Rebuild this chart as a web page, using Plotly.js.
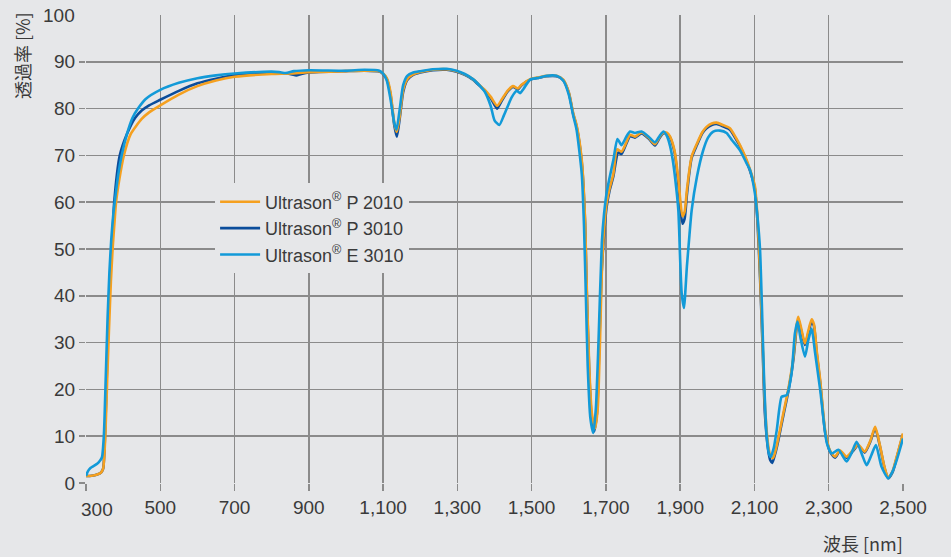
<!DOCTYPE html>
<html>
<head>
<meta charset="utf-8">
<script src="https://cdn.plot.ly/plotly-3.0.1.min.js"></script>
<style>
  html, body { margin: 0; padding: 0; background: #e6e7e9; }
  #chart { width: 951px; height: 557px; }
</style>
</head>
<body>
<div id="chart"></div>
<script>
// Series names
const seriesNames = ["Ultrason<sup>®</sup> P 2010", "Ultrason<sup>®</sup> P 3010", "Ultrason<sup>®</sup> E 3010"];

// Ultrason P 2010 (orange)
const p2010_wl = [300,310,320,330,340,346,352,357,362,367,372,377,381,390,402,420,450,470,500,550,600,650,700,800,850,900,1000,1050,1090,1100,1110,1120,1130,1137,1145,1154,1165,1181,1200,1234,1271,1298,1320,1342,1365,1374,1390,1407,1420,1435,1450,1463,1473,1496,1520,1540,1567,1585,1600,1612,1621,1635,1644,1648,1655,1662,1671,1678,1684,1689,1695,1702,1710,1720,1730,1742,1755,1765,1778,1796,1815,1832,1845,1855,1865,1873,1880,1886,1895,1906,1912,1918,1925,1931,1945,1960,1971,1985,1998,2015,2034,2050,2061,2075,2088,2101,2108,2115,2122,2128,2137,2143,2150,2157,2164,2178,2191,2205,2214,2218,2226,2236,2245,2254,2260,2268,2277,2290,2303,2317,2330,2348,2365,2379,2397,2412,2425,2438,2450,2460,2472,2483,2500];
const p2010_t = [1.5,1.5,1.6,1.8,2.2,3.0,10,22,33,43,50.5,56,60,65,70,74.5,77.8,79.2,80.7,83,84.8,86,86.8,87.4,87.5,87.8,88,88.1,88,87.5,86.5,83.5,77,75,78.5,84,86.3,87.3,87.8,88.3,88.4,88.0,87.3,86.3,84.6,84,82.5,80.6,82,83.8,84.8,84.3,85.1,86.3,86.7,87,87,86.2,83.5,79,76.5,69,56,43,25,15,11.7,16,30,45,54,59.8,63,66,71.3,70.8,72.8,74.4,74,74.9,73.8,72.4,74,74.9,74.8,74,72.5,70.5,65,57,58,62.5,67,69.8,72.5,75,76.1,76.8,77,76.5,75.8,73.8,72.2,69.8,67,63.5,57,45,30,17,8,5.8,5.3,7,9.5,15,20,27,34,35.5,33,29.8,32.5,35,34,28,22,11.5,7,5.6,7,5.6,7,8.2,6.7,9,12,8,3.5,1.1,2.5,5.6,10.6];

// Ultrason P 3010 (dark blue)
const p3010_wl = [300,310,320,330,340,346,352,357,362,367,372,376,391,410,432,450,470,500,550,600,650,700,800,840,855,866,880,900,1000,1050,1090,1100,1110,1120,1130,1137,1145,1154,1165,1181,1200,1234,1271,1298,1320,1342,1365,1374,1390,1407,1420,1435,1450,1463,1473,1496,1520,1540,1567,1585,1600,1612,1621,1635,1644,1648,1655,1661,1668,1676,1682,1688,1695,1702,1710,1720,1733,1742,1755,1765,1778,1796,1815,1832,1845,1855,1865,1873,1880,1886,1895,1906,1912,1918,1925,1931,1945,1960,1971,1985,1998,2015,2034,2050,2061,2075,2088,2101,2108,2115,2122,2128,2137,2143,2148,2155,2164,2178,2191,2205,2214,2218,2226,2236,2245,2254,2260,2268,2277,2290,2303,2317,2330,2348,2365,2379,2397,2412,2425,2438,2450,2460,2472,2483,2500];
const p3010_t = [1.5,1.5,1.6,1.8,2.2,3.0,12,26,38,47,54,60,70,74.5,78,79.6,80.7,81.9,83.8,85.4,86.4,87.1,87.5,87.5,87.3,87.1,87.4,87.7,88,88.1,87.9,87.4,86.3,83,76.5,74,78,83.5,86.1,87.2,87.7,88.2,88.3,87.9,87.2,86.2,84.5,83.8,82.2,80,81.7,83.6,84.6,84.1,85,86.2,86.6,86.9,86.9,86.1,83.4,78.8,76.2,68.5,55.5,42,24,14.5,11,15,29,44,53,59,62.5,65.5,70.6,70.3,72.5,74.1,73.8,74.7,73.6,72.1,73.8,74.7,74.6,73.8,72.2,70.2,64,55.4,56.5,61.5,66.5,69.5,72.2,74.8,75.8,76.5,76.7,76.2,75.5,73.5,72,69.5,66.7,63,56,44,29,15,7,4.8,4.3,6,9,14.5,19.5,26.5,33.5,35,32.5,29.5,32,34.5,33.6,27.5,21.5,11,6.8,5.4,6.8,5.4,6.8,8,6.5,8.8,11.7,7.8,3.3,1,2.3,5.4,10.4];

// Ultrason E 3010 (light blue)
const e3010_wl = [300,305,312,320,330,338,343,348,353,358,363,368,373,378,387,396,410,425,440,460,500,550,600,650,700,800,820,838,860,900,1000,1050,1090,1100,1110,1120,1130,1136,1145,1154,1165,1181,1200,1234,1271,1298,1320,1342,1365,1374,1390,1400,1413,1425,1433,1447,1460,1469,1478,1496,1520,1540,1567,1585,1600,1612,1621,1635,1641,1646,1651,1658,1666,1673,1680,1689,1695,1702,1710,1720,1731,1742,1755,1765,1778,1796,1815,1832,1845,1855,1865,1873,1880,1886,1895,1900,1904,1910,1918,1925,1931,1945,1962,1975,1989,2007,2025,2039,2061,2079,2088,2101,2108,2115,2120,2126,2133,2140,2144,2152,2160,2173,2180,2187,2200,2209,2216,2224,2236,2245,2254,2263,2277,2295,2308,2326,2348,2362,2375,2390,2402,2415,2427,2442,2460,2472,2483,2500];
const e3010_t = [1.5,2.5,3.2,3.6,4.1,4.8,5.5,10,22,35,45,52,57,60.5,66,70,74.5,78,80,82,84,85.5,86.5,87.1,87.5,87.9,87.8,87.6,88,88.2,88.1,88.3,88.1,87.5,86,82,77,75.5,80,85,87,87.7,88,88.4,88.5,88.1,87.4,86.3,84.5,83.6,80.5,77.5,76.5,78.5,80,82.5,83.8,83.3,84.2,86.2,86.6,87,87,86,83,78.5,75.5,66,55,40,25,14,10.7,16,30,51.3,57.5,62,65.3,69,73.5,72.2,74,75.1,74.8,75.1,74,72.8,74.2,75.1,74,71.9,69,65.4,58.3,47.6,40.6,37.4,46.2,53,58.3,65.4,71.1,73.8,75.1,75.3,74.8,73.3,71.1,68.3,66.9,62,57,49.8,38,22,10,6,5.6,7.5,11.3,18.4,18.6,18.8,23.5,32,34.5,31,27,30.5,33,28,19.9,8.5,6.3,7.1,4.6,6.5,8.8,6,3.8,6,8.1,3.5,1,2.5,4.9,9.5];

// Axis ticks
const xTicks = [300,500,700,900,1100,1300,1500,1700,1900,2100,2300,2500];
const xTickText = ["","500","700","900","1,100","1,300","1,500","1,700","1,900","2,100","2,300","2,500"];
const yTicks = [0,10,20,30,40,50,60,70,80,90];

const colors = {p2010: "#f5a01f", p3010: "#0b4d9b", e3010: "#129ad8"};
const bg = "#e6e7e9";
const gridC = "#8b8b8b";
const txtC = "#3a3a3a";
const font = "Liberation Sans, Arial, sans-serif";

function tr(x, y, name, color, rank) {
  return {
    x: x, y: y, name: name, type: "scatter", mode: "lines",
    line: {color: color, width: 2.6, shape: "spline", smoothing: 0.6},
    legendrank: rank, legendgroup: "g" + rank,
    hoverinfo: "skip"
  };
}

const data = [
  tr(p3010_wl, p3010_t, seriesNames[1], colors.p3010, 2),
  tr(p2010_wl, p2010_t, seriesNames[0], colors.p2010, 1),
  tr(e3010_wl, e3010_t, seriesNames[2], colors.e3010, 3)
];

const layout = {
  width: 951, height: 557,
  paper_bgcolor: bg, plot_bgcolor: bg,
  margin: {l: 86, r: 48, t: 15, b: 74},
  font: {family: font, color: txtC, size: 19},
  showlegend: true,
  legend: {
    x: 0.158, y: 0.64, xanchor: "left", yanchor: "top",
    bgcolor: bg, borderwidth: 0, itemwidth: 40,
    font: {family: font, size: 18, color: txtC},
    tracegroupgap: 4, traceorder: "normal"
  },
  xaxis: {
    range: [300, 2500], tickvals: xTicks, ticktext: xTickText,
    showgrid: true, gridcolor: gridC, gridwidth: 1.5,
    ticks: "outside", ticklen: 7, tickwidth: 1.5, tickcolor: gridC,
    zeroline: false, showline: false,
    tickfont: {family: font, size: 19, color: txtC}
  },
  yaxis: {
    range: [0, 100], tickvals: yTicks,
    showgrid: true, gridcolor: gridC, gridwidth: 1.5,
    ticks: "outside", ticklen: 6, tickwidth: 1.5, tickcolor: gridC,
    zeroline: false, showline: false,
    tickfont: {family: font, size: 19, color: txtC}
  },
  annotations: [
    {text: "100", xref: "paper", yref: "y", x: 0, y: 100, xanchor: "right", yanchor: "middle",
     xshift: -9, showarrow: false, font: {family: font, size: 19, color: txtC}},
    {text: "300", xref: "x", yref: "paper", x: 300, y: 0, xanchor: "center", yanchor: "middle",
     xshift: 11, yshift: -26, showarrow: false, font: {family: font, size: 19, color: txtC}},
    {text: "透過率 [%]", xref: "paper", yref: "paper", x: -0.078, y: 1.01, xanchor: "center", yanchor: "top",
     textangle: -90, showarrow: false, font: {family: "Noto Sans CJK JP", size: 18, color: txtC}},
    {text: "波長 [nm]", xref: "paper", yref: "paper", x: 1.003, y: 0, xanchor: "right", yanchor: "middle",
     yshift: -60, showarrow: false, font: {family: "Noto Sans CJK JP", size: 18, color: txtC}}
  ]
};

Plotly.newPlot("chart", data, layout, {displayModeBar: false, staticPlot: true});
</script>
</body>
</html>
